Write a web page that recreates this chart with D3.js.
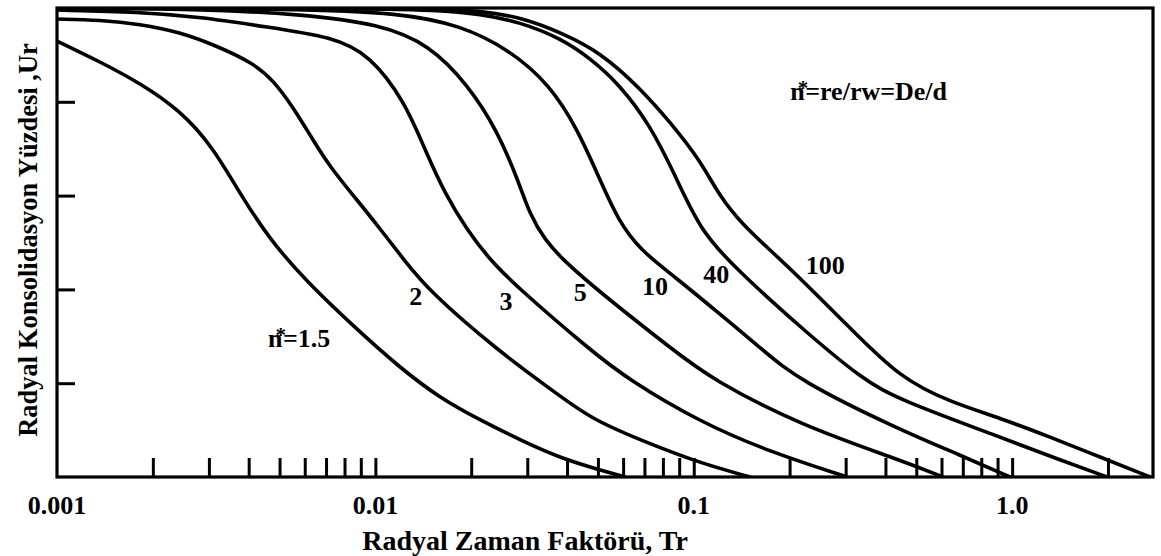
<!DOCTYPE html>
<html>
<head>
<meta charset="utf-8">
<script src="https://cdn.jsdelivr.net/npm/d3@7"></script>
<style>
  html, body { margin: 0; padding: 0; background: #fff; }
  svg text { font-family: "Liberation Serif", "Times New Roman", serif; font-weight: bold; fill: #000; }
</style>
</head>
<body>
<svg id="chart" width="1161" height="556"></svg>
<script>
// Radial consolidation curves: [Tr, Ur %] for each spacing ratio n* = re/rw
const curveN1_5 = [[0.001,7.04],[0.00137,11.51],[0.00182,15.99],[0.00243,21.75],[0.00309,29.64],[0.00376,39.66],[0.00467,49.47],[0.0061,58.42],[0.00832,67.16],[0.01195,76.76],[0.01596,83.16],[0.02131,87.85],[0.02847,92.11],[0.03802,95.95],[0.05078,98.51],[0.06082,100]];
const curveN2   = [[0.001,2.35],[0.00137,2.56],[0.00182,3.41],[0.00243,5.12],[0.00318,8.1],[0.00413,11.73],[0.00477,15.35],[0.00551,21.11],[0.00637,28.14],[0.0072,33.9],[0.00876,40.94],[0.01042,47.33],[0.0123,53.73],[0.01485,60.55],[0.0241,72.92],[0.03802,82.73],[0.04827,87.85],[0.07289,92.96],[0.1046,97.01],[0.1502,100]];
const curveN3   = [[0.001,0.43],[0.00182,0.85],[0.00281,1.92],[0.00457,4.05],[0.00736,6.18],[0.00962,10.02],[0.01239,20.04],[0.01432,30.28],[0.01655,39.66],[0.01941,47.33],[0.02292,53.73],[0.02786,59.49],[0.04723,72.92],[0.06261,79.32],[0.1046,88.27],[0.1736,94.67],[0.303,100]];
const curveN5   = [[0.001,0],[0.00281,0.21],[0.0058,1.28],[0.01034,3.41],[0.01485,7.89],[0.01954,16.42],[0.0241,26.01],[0.02805,36.67],[0.03059,44.14],[0.0341,49.47],[0.03886,53.73],[0.04969,60.13],[0.08608,72.92],[0.1149,79.32],[0.2157,88.91],[0.4446,96.38],[0.6067,100]];
const curveN10  = [[0.001,0],[0.0058,0.21],[0.01195,1.07],[0.01845,3.62],[0.02648,8.96],[0.03536,16.42],[0.0433,26.01],[0.05078,36.67],[0.05782,45.2],[0.06781,51.6],[0.08733,57.36],[0.1166,64.39],[0.165,72.92],[0.2126,79.32],[0.4446,89.98],[0.686,95.31],[0.985,100]];
const curveN40  = [[0.001,0],[0.00832,0],[0.01596,0.43],[0.02131,1.28],[0.02847,2.99],[0.03802,6.4],[0.04723,10.66],[0.05866,16.42],[0.07289,24.95],[0.08733,35.61],[0.1046,47.33],[0.1348,55.44],[0.2157,68.02],[0.3401,79.32],[0.4446,83.58],[0.9162,91.47],[1.414,96.38],[1.987,100]];
const curveN100 = [[0.001,0],[0.0058,0],[0.01596,0.21],[0.02131,0.64],[0.02847,1.92],[0.03802,5.12],[0.05078,9.38],[0.06781,17.06],[0.08422,24.31],[0.1046,32.41],[0.1209,40.3],[0.1428,46.27],[0.1736,51.6],[0.2157,57.57],[0.3096,68.23],[0.4446,78.89],[0.6381,84.01],[0.9162,87.42],[1.315,91.47],[1.889,95.74],[2.711,100]];

const curveNames = ["1.5", "2", "3", "5", "10", "40", "100"];
const curveSeries = [curveN1_5, curveN2, curveN3, curveN5, curveN10, curveN40, curveN100];

// Axis tick values and labels
const xTickValues = [0.001, 0.01, 0.1, 1.0];
const xTickLabels = ["0.001", "0.01", "0.1", "1.0"];
const yTickValues = [20, 40, 60, 80];

const xTitle = "Radyal Zaman Faktörü, Tr";
const yTitle = "Radyal Konsolidasyon Yüzdesi ,Ur";

// ---- layout ----
const svg = d3.select("#chart");
const plot = { left: 57, top: 8, right: 1153, bottom: 477 };

const x = d3.scaleLog().domain([0.001, 2.77]).range([plot.left, plot.right]);
const y = d3.scaleLinear().domain([0, 100]).range([plot.top, plot.bottom]);

svg.append("rect").attr("width", 1161).attr("height", 556).attr("fill", "#fff");

svg.append("defs").append("clipPath").attr("id", "plotClip")
  .append("rect")
  .attr("x", plot.left).attr("y", plot.top)
  .attr("width", plot.right - plot.left).attr("height", plot.bottom - plot.top);

// curves, smoothed with a B-spline through the read points
const line = d3.line()
  .x(d => x(d[0]))
  .y(d => y(d[1]))
  .curve(d3.curveBasis);

svg.append("g").attr("clip-path", "url(#plotClip)")
  .selectAll("path")
  .data(curveSeries)
  .join("path")
  .attr("d", line)
  .attr("fill", "none")
  .attr("stroke", "#000")
  .attr("stroke-width", 3.6)
  .attr("stroke-linejoin", "round")
  .attr("stroke-linecap", "round");

// bottom axis: inward ticks at every log step
const minorTicks = x.ticks().filter(v => v > 0.001);
const xAxis = d3.axisBottom(x)
  .tickValues(minorTicks)
  .tickSizeInner(-19)
  .tickSizeOuter(0)
  .tickFormat("");
const gx = svg.append("g").attr("transform", `translate(0,${plot.bottom})`).call(xAxis);
gx.select(".domain").remove();
gx.selectAll(".tick line").attr("stroke", "#000").attr("stroke-width", 3);

// left axis: inward ticks
const yAxis = d3.axisLeft(y)
  .tickValues(yTickValues)
  .tickSizeInner(-18)
  .tickSizeOuter(0)
  .tickFormat("");
const gy = svg.append("g").attr("transform", `translate(${plot.left},0)`).call(yAxis);
gy.select(".domain").remove();
gy.selectAll(".tick line").attr("stroke", "#000").attr("stroke-width", 3);

// frame
svg.append("rect")
  .attr("x", plot.left).attr("y", plot.top)
  .attr("width", plot.right - plot.left).attr("height", plot.bottom - plot.top)
  .attr("fill", "none").attr("stroke", "#000").attr("stroke-width", 3.2);

// x tick labels
svg.append("g").selectAll("text")
  .data(xTickValues)
  .join("text")
  .attr("x", d => x(d))
  .attr("y", 514)
  .attr("text-anchor", "middle")
  .attr("font-size", 26)
  .text((d, i) => xTickLabels[i]);

// axis titles
svg.append("text")
  .attr("x", 525).attr("y", 550)
  .attr("text-anchor", "middle")
  .attr("font-size", 28)
  .text(xTitle);

svg.append("text")
  .attr("transform", "translate(37,240) rotate(-90)")
  .attr("text-anchor", "middle")
  .attr("font-size", 26.5)
  .text(yTitle);

// curve labels, anchored in data coordinates
const labelAnchors = [
  { name: "2",   t: 0.0134, u: 63.3 },
  { name: "3",   t: 0.0257, u: 64.4 },
  { name: "5",   t: 0.044,  u: 62.5 },
  { name: "10",  t: 0.0756, u: 61.2 },
  { name: "40",  t: 0.1176, u: 58.6 },
  { name: "100", t: 0.259,  u: 56.7 }
];
svg.append("g").selectAll("text")
  .data(labelAnchors)
  .join("text")
  .attr("x", d => x(d.t))
  .attr("y", d => y(d.u))
  .attr("text-anchor", "middle")
  .attr("font-size", 26)
  .text(d => d.name);

// n* labels with the asterisk sitting over the n
function starLabel(t, u, rest) {
  const txt = svg.append("text")
    .attr("x", x(t)).attr("y", y(u))
    .attr("font-size", 26);
  txt.append("tspan").text("n");
  txt.append("tspan").attr("dx", -7).attr("dy", -5).attr("font-size", 21).text("*");
  txt.append("tspan").attr("dx", -3).attr("dy", 5).text(rest);
}
starLabel(0.0046, 72.3, "=" + curveNames[0]);
starLabel(0.201, 19.6, "=re/rw=De/d");
</script>
</body>
</html>
